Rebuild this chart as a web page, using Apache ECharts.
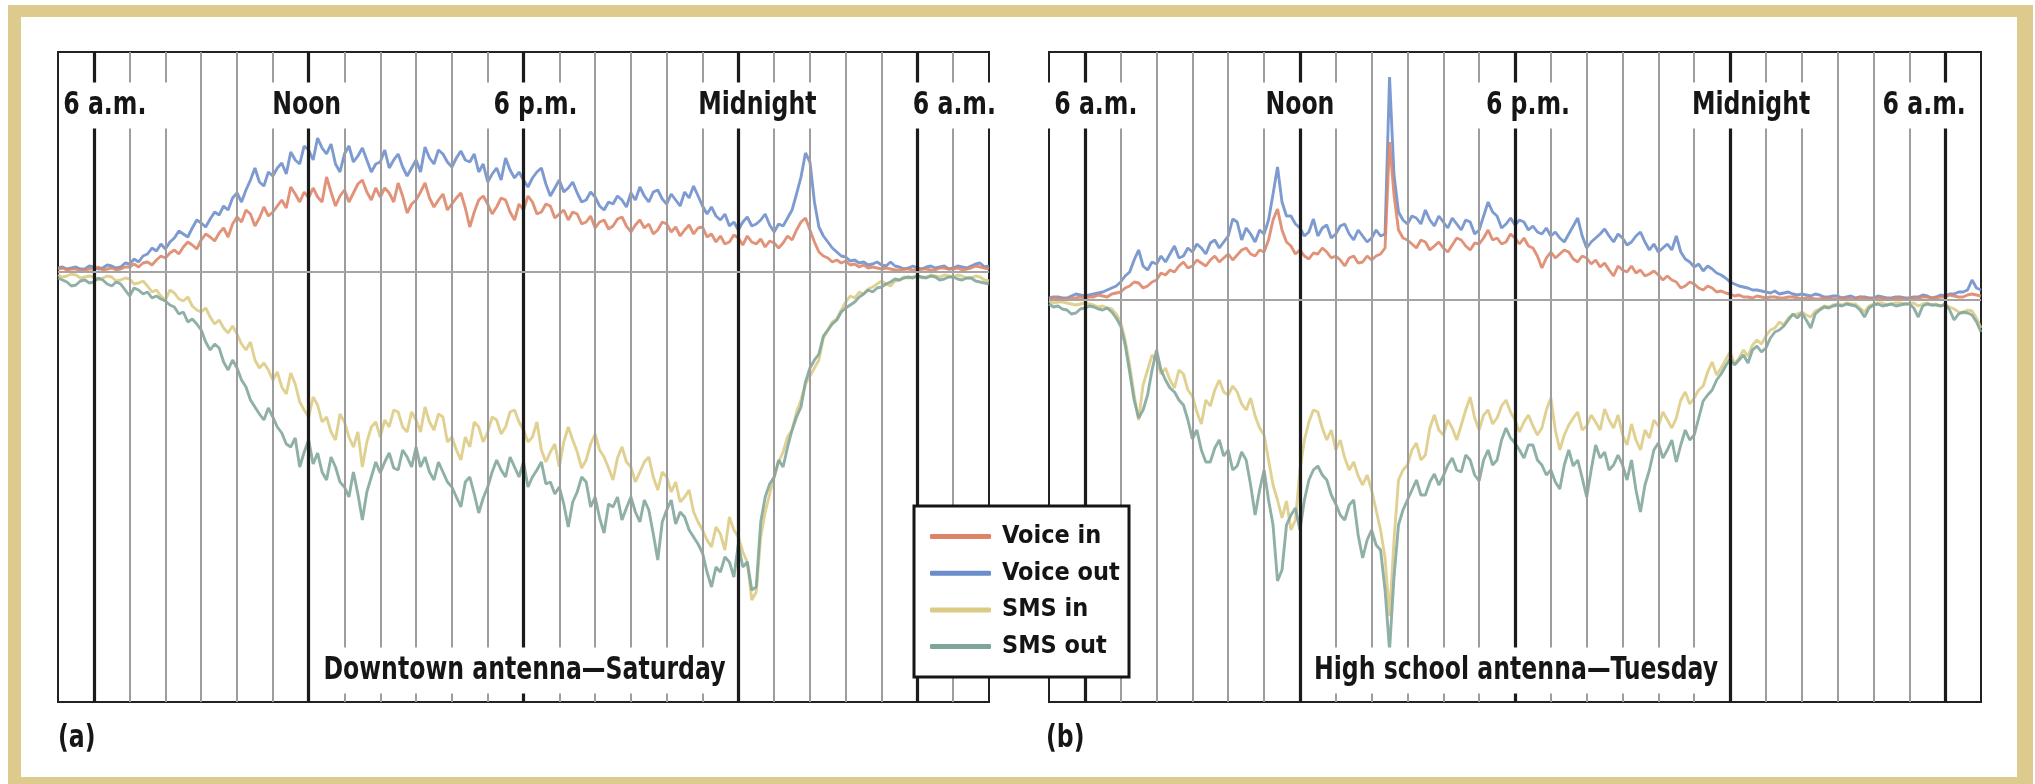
<!DOCTYPE html>
<html>
<head>
<meta charset="utf-8">
<title>Voice and SMS traffic by antenna</title>
<script src="https://cdn.jsdelivr.net/npm/echarts@6.0.0/dist/echarts.min.js"></script>
<style>
  html, body { margin: 0; padding: 0; background: #fff; }
  #chart { width: 2035px; height: 784px; }
</style>
</head>
<body>
<div id="chart"></div>
<script>
// time axis: hours after 5 a.m. (left edge of each panel), one reading every 7.5 minutes
const hours = [];
for (let i = 0; i <= 208; i++) hours.push(i / 8);

const seriesNames = ['Voice in', 'Voice out', 'SMS in', 'SMS out'];
const tickLabels = ['6 a.m.', 'Noon', '6 p.m.', 'Midnight', '6 a.m.'];
const tickHoursA = [1, 7, 13, 19, 24];
const tickHoursB = [1, 7, 13, 19, 25];
const panelTitles = ['Downtown antenna\u2014Saturday', 'High school antenna\u2014Tuesday'];
const panelTags = ['(a)', '(b)'];

// (a) downtown antenna, Saturday -- one row per hour
const voiceInA = [
  3, 4, 2, 3, 3, 1, 2, 3,
  3, 5, 2, 3, 4, 2, 3, 5,
  5, 8, 5, 9, 10, 7, 12, 16,
  14, 19, 22, 18, 25, 30, 27, 23,
  32, 38, 35, 31, 39, 44, 35, 48,
  55, 50, 62, 58, 46, 54, 65, 56,
  60, 66, 72, 64, 85, 78, 70, 80,
  74, 84, 75, 70, 95, 80, 66, 76,
  82, 70, 79, 88, 92, 80, 72, 84,
  75, 84, 79, 70, 89, 76, 59, 68,
  72, 80, 89, 74, 65, 72, 78, 62,
  68, 74, 79, 64, 45, 60, 72, 76,
  68, 58, 65, 74, 72, 60, 52, 68,
  62, 76, 70, 58, 60, 68, 66, 54,
  58, 62, 52, 60, 58, 48, 50, 56,
  44, 50, 52, 43, 46, 53, 55, 46,
  40, 47, 52, 44, 48, 38, 42, 50,
  48, 40, 45, 36, 42, 47, 38, 44,
  45, 35, 38, 30, 36, 28, 30, 37,
  34, 27, 36, 30, 28, 33, 25, 31,
  29, 24, 29, 36, 32, 42, 50, 54,
  42, 30, 20, 16, 14, 10, 12, 9,
  11, 7, 8, 5, 7, 4, 5, 4,
  3, 4, 3, 2, 2, 3, 3, 2,
  2, 3, 3, 2, 2, 4, 4, 3,
  3, 4, 2, 3, 4, 6, 5, 4,
  3
];
const voiceOutA = [
  4, 5, 3, 4, 5, 3, 3, 6,
  5, 3, 4, 7, 6, 4, 5, 9,
  8, 13, 10, 16, 18, 24, 21, 28,
  23, 30, 34, 41, 38, 35, 44, 52,
  49, 45, 53, 60, 57, 66, 62, 74,
  79, 70, 82, 92, 104, 90, 86, 100,
  96, 104, 109, 98, 120, 112, 108, 126,
  122, 112, 134, 124, 118, 128, 108, 100,
  118, 126, 110, 116, 124, 112, 100, 108,
  110, 122, 104, 112, 118, 105, 96, 104,
  112, 100, 125, 114, 108, 122, 118, 110,
  105, 114, 121, 112, 110, 118, 100, 108,
  90, 98, 104, 92, 114, 102, 94, 100,
  92, 85, 94, 100, 104, 88, 76, 84,
  92, 80, 84, 90, 79, 70, 72, 80,
  75, 66, 62, 70, 68, 76, 72, 65,
  79, 72, 85, 76, 70, 80, 82, 73,
  68, 78, 72, 66, 80, 74, 86, 76,
  66, 58, 65, 56, 52, 58, 46, 50,
  42, 50, 55, 46, 48, 52, 58, 47,
  40, 48, 46, 54, 62, 78, 95, 119,
  110, 70, 45, 36, 30, 24, 20, 16,
  15, 11, 12, 9, 10, 7, 8, 10,
  7, 6, 10, 6, 5, 3, 4, 6,
  4, 3, 5, 6, 4, 5, 6, 3,
  4, 6, 5, 4, 6, 8, 9, 5,
  6
];
const smsInA = [
  -3, -5, -4, -2, -3, -6, -5, -4,
  -5, -8, -6, -4, -5, -9, -8, -6,
  -7, -12, -11, -9, -14, -20, -18, -24,
  -28, -18, -21, -27, -29, -25, -34, -38,
  -40, -36, -45, -52, -48, -56, -61, -54,
  -62, -72, -78, -70, -88, -96, -91, -98,
  -108, -100, -115, -122, -101, -112, -130, -138,
  -145, -125, -133, -150, -145, -160, -168, -142,
  -150, -165, -175, -160, -195, -170, -155, -150,
  -165, -148, -155, -138, -140, -155, -160, -140,
  -148, -160, -135, -150, -158, -142, -145, -170,
  -165, -178, -188, -165, -175, -150, -155, -170,
  -160, -145, -148, -162, -155, -140, -138, -150,
  -158, -170, -165, -150, -178, -190, -180, -172,
  -195, -170, -155, -168, -180, -196, -188, -172,
  -162, -178, -185, -196, -208, -186, -175, -190,
  -195, -210, -200, -190, -185, -205, -218, -200,
  -205, -220, -210, -230, -225, -218, -240, -250,
  -258, -268, -275, -255, -262, -278, -245, -258,
  -265, -280, -290, -328, -320, -265, -240, -222,
  -205, -190, -180, -165, -158, -140, -128, -112,
  -104, -96, -88, -66, -58, -50, -47, -38,
  -30, -24, -26, -20, -22, -17, -15, -12,
  -9, -12, -14, -9, -8, -5, -6, -5,
  -4, -6, -5, -3, -4, -5, -3, -4,
  -5, -3, -4, -6, -6, -4, -5, -8,
  -9
];
const smsOutA = [
  -6, -8, -10, -14, -13, -9, -8, -11,
  -10, -6, -8, -12, -14, -10, -12, -18,
  -24, -16, -18, -22, -20, -26, -24, -27,
  -29, -33, -35, -42, -40, -50, -47, -52,
  -58, -70, -78, -72, -76, -90, -98, -88,
  -96, -108, -115, -128, -135, -142, -148, -136,
  -145, -155, -161, -172, -175, -166, -195, -180,
  -168, -192, -181, -200, -208, -185, -195, -210,
  -215, -225, -200, -222, -248, -220, -205, -190,
  -201, -190, -181, -196, -198, -178, -185, -195,
  -175, -195, -185, -200, -208, -190, -200, -210,
  -215, -225, -235, -210, -205, -222, -241, -226,
  -215, -200, -188, -198, -205, -185, -195, -205,
  -190, -215, -205, -198, -190, -212, -210, -222,
  -215, -232, -255, -230, -220, -205, -210, -235,
  -225, -246, -261, -232, -235, -225, -248, -236,
  -225, -240, -250, -228, -238, -262, -288, -250,
  -238, -228, -252, -240, -245, -258, -265, -272,
  -281, -300, -315, -295, -300, -285, -290, -305,
  -272, -295, -290, -318, -315, -250, -225, -212,
  -205, -188, -195, -175, -158, -145, -135, -110,
  -96, -88, -82, -64, -58, -52, -48, -40,
  -36, -33, -30, -25, -22, -18, -20, -16,
  -15, -12, -10, -7, -8, -6, -5, -6,
  -4, -5, -6, -4, -5, -8, -7, -5,
  -5, -7, -8, -6, -6, -9, -10, -11,
  -12
];

// (b) high school antenna, Tuesday -- one row per hour
const voiceInB = [
  1, 2, 2, 1, 1, 2, 2, 3,
  2, 3, 3, 5, 4, 3, 6, 7,
  8, 12, 14, 18, 17, 12, 14, 18,
  20, 27, 25, 30, 28, 34, 38, 32,
  34, 40, 37, 34, 40, 44, 38, 42,
  46, 40, 45, 50, 52, 46, 44, 50,
  48, 60, 80, 91, 70, 58, 54, 46,
  50, 44, 41, 47, 46, 52, 48, 42,
  44, 40, 34, 42, 44, 37, 38, 44,
  40, 44, 46, 52, 158, 105, 70, 62,
  60, 56, 52, 60, 58, 50, 54, 58,
  52, 48, 55, 62, 60, 54, 50, 57,
  56, 62, 70, 60, 62, 56, 58, 66,
  62, 56, 62, 54, 52, 44, 32, 42,
  48, 42, 46, 50, 48, 41, 38, 44,
  42, 36, 40, 33, 37, 30, 24, 34,
  30, 28, 34, 27, 30, 24, 26, 29,
  25, 20, 24, 20, 18, 12, 14, 18,
  16, 12, 10, 14, 12, 8, 9, 7,
  6, 4, 5, 3, 3, 2, 4, 3,
  2, 3, 3, 2, 2, 3, 3, 2,
  1, 2, 2, 1, 1, 2, 2, 1,
  1, 2, 2, 1, 1, 3, 2, 1,
  1, 2, 2, 1, 1, 2, 2, 1,
  1, 2, 2, 3, 3, 2, 2, 3,
  3, 5, 4, 3, 3, 5, 6, 5,
  4
];
const voiceOutB = [
  2, 3, 3, 2, 2, 4, 6, 5,
  4, 5, 6, 7, 8, 10, 12, 14,
  18, 24, 28, 40, 50, 34, 30, 38,
  36, 44, 38, 46, 54, 42, 44, 52,
  48, 56, 52, 46, 57, 60, 52, 58,
  64, 81, 78, 60, 72, 66, 58, 70,
  66, 80, 106, 133, 98, 84, 84, 76,
  72, 64, 68, 81, 64, 72, 75, 62,
  66, 74, 76, 66, 60, 70, 64, 58,
  62, 70, 64, 66, 223, 125, 88, 80,
  76, 84, 82, 76, 90, 80, 74, 84,
  78, 72, 82, 76, 70, 80, 78, 66,
  70, 84, 98, 88, 84, 72, 76, 82,
  75, 80, 78, 70, 74, 68, 66, 72,
  64, 68, 62, 58, 66, 74, 82, 64,
  52, 58, 62, 66, 71, 64, 58, 66,
  62, 55, 58, 64, 68, 58, 50, 56,
  48, 52, 56, 50, 64, 48, 41, 38,
  33, 36, 29, 34, 31, 27, 25, 22,
  18, 16, 14, 13, 12, 10, 10, 9,
  8, 7, 9, 6, 7, 8, 6, 5,
  6, 5, 4, 6, 5, 3, 3, 4,
  4, 2, 3, 4, 2, 3, 3, 2,
  2, 4, 3, 2, 2, 3, 3, 2,
  2, 3, 3, 5, 4, 2, 3, 5,
  4, 6, 6, 8, 8, 10, 20, 12,
  10
];
const smsInB = [
  -1, -3, -2, -2, -3, -4, -5, -4,
  -3, -4, -5, -7, -6, -8, -9, -14,
  -22, -40, -65, -95, -120, -85, -70, -55,
  -60, -74, -68, -80, -88, -70, -74, -90,
  -96, -112, -124, -100, -106, -90, -80, -92,
  -95, -86, -92, -104, -110, -98, -116, -128,
  -135, -160, -185, -200, -218, -201, -230, -220,
  -170, -140, -122, -110, -112, -128, -140, -130,
  -150, -140, -158, -170, -162, -176, -185, -175,
  -190, -210, -230, -258, -316, -240, -180, -170,
  -165, -150, -143, -160, -155, -128, -115, -130,
  -135, -120, -128, -140, -125, -110, -97, -118,
  -130, -115, -110, -124, -118, -106, -100, -112,
  -120, -132, -122, -115, -126, -135, -128, -110,
  -98, -130, -150, -135, -125, -118, -112, -130,
  -126, -115, -122, -130, -109, -120, -128, -115,
  -135, -145, -124, -140, -150, -130, -138, -120,
  -126, -112, -120, -128, -118, -100, -92, -104,
  -98, -90, -86, -72, -62, -75, -68, -60,
  -52, -64, -58, -50, -56, -45, -40, -44,
  -36, -30, -28, -22, -25, -18, -15, -14,
  -12, -15, -17, -11, -9, -6, -7, -5,
  -4, -5, -3, -4, -4, -8, -12, -6,
  -4, -3, -3, -5, -4, -3, -3, -4,
  -4, -3, -6, -4, -3, -5, -4, -6,
  -5, -7, -9, -12, -13, -10, -11, -18,
  -28
];
const smsOutB = [
  -4, -7, -6, -9, -10, -14, -13, -9,
  -8, -6, -7, -9, -10, -8, -12, -18,
  -26, -45, -72, -100, -118, -110, -95, -70,
  -50, -70, -80, -88, -92, -100, -105, -120,
  -139, -130, -150, -162, -162, -148, -140, -156,
  -150, -170, -166, -152, -160, -185, -215, -190,
  -170, -200, -225, -281, -270, -225, -215, -208,
  -230, -200, -180, -170, -166, -175, -180, -195,
  -204, -215, -220, -205, -200, -235, -258, -240,
  -230, -245, -250, -290, -350, -277, -225, -210,
  -200, -190, -180, -195, -195, -182, -174, -185,
  -176, -165, -158, -170, -172, -155, -160, -175,
  -181, -160, -150, -165, -160, -140, -128, -138,
  -143, -150, -158, -145, -145, -160, -165, -175,
  -170, -182, -189, -165, -150, -166, -160, -178,
  -197, -170, -145, -158, -152, -170, -165, -155,
  -165, -180, -160, -190, -212, -185, -170, -150,
  -143, -158, -150, -140, -162, -145, -130, -140,
  -135, -118, -101, -95, -90, -80, -74, -66,
  -59, -65, -60, -55, -63, -50, -46, -52,
  -48, -38, -32, -30, -26, -20, -14, -18,
  -13, -20, -28, -14, -10, -7, -8, -6,
  -5, -6, -4, -5, -6, -10, -17, -8,
  -5, -4, -6, -5, -4, -6, -5, -4,
  -4, -8, -17, -6, -4, -5, -5, -6,
  -4, -10, -20, -14, -12, -13, -15, -22,
  -32
];

const FONT = "'DejaVu Sans Condensed', 'DejaVu Sans', sans-serif";
const TEXT_FONT = 'bold 32px ' + FONT;
const SQUEEZE = 0.82;   // the original uses a narrow face
const colors = ['#dd8466', '#6b8dca', '#dccb84', '#7ea59b'];
const drawOrder = [1, 0, 2, 3]; // voice out under voice in, sms in under sms out

const panels = [
  { data: [voiceInA, voiceOutA, smsInA, smsOutA], ticks: tickHoursA,
    tickShift: [11, -2, 12, 19, 37], topY: 166.6, bottomY: -398.5 },
  { data: [voiceInB, voiceOutB, smsInB, smsOutB], ticks: tickHoursB,
    tickShift: [11, 0, 13, 21, -21], topY: 194.6, bottomY: -370.5 }
];

const toPairs = vals => vals.map((v, i) => [hours[i], v]);

const series = [];
panels.forEach((p, k) => {
  drawOrder.forEach(s => {
    series.push({
      type: 'line', name: seriesNames[s], xAxisIndex: k, yAxisIndex: k,
      data: toPairs(p.data[s]), showSymbol: false, symbol: 'none', z: 2,
      color: colors[s], itemStyle: { color: colors[s] },
      lineStyle: { color: colors[s], width: 2.9, opacity: 0.88 },
      emphasis: { disabled: true }
    });
  });

  // hour lines drawn on top of the traffic, like the original
  const lines = [];
  for (let h = 1; h < 26; h++) {
    if (p.ticks.indexOf(h) >= 0) continue;
    lines.push({ xAxis: h, lineStyle: { color: '#9d9d9d', width: 2, type: 'solid' } });
  }
  p.ticks.forEach(h => lines.push({ xAxis: h, lineStyle: { color: '#1b1b1b', width: 3.2, type: 'solid' } }));
  lines.push({ yAxis: 0, lineStyle: { color: '#a4a4a4', width: 2, type: 'solid' } });
  series.push({
    type: 'line', name: 'hours' + k, xAxisIndex: k, yAxisIndex: k, data: [], z: 3, silent: true,
    markLine: { silent: true, z: 3, symbol: ['none', 'none'], label: { show: false },
      emphasis: { disabled: true }, animation: false, data: lines }
  });
});

const gold = '#dccb8c';
const frame = [
  { type: 'rect', z: 1, shape: { x: 8, y: 5, width: 2025, height: 12 }, style: { fill: gold } },
  { type: 'rect', z: 1, shape: { x: 8, y: 5, width: 13, height: 779 }, style: { fill: gold } },
  { type: 'rect', z: 1, shape: { x: 2017, y: 5, width: 16, height: 779 }, style: { fill: gold } },
  { type: 'rect', z: 1, shape: { x: 8, y: 777, width: 2025, height: 7 }, style: { fill: gold } },
  { type: 'rect', z: 50, shape: { x: 914, y: 506, width: 215, height: 171 },
    style: { fill: '#fff', stroke: '#151515', lineWidth: 3 } }
];

const option = {
  animation: false,
  backgroundColor: '#fff',
  grid: [
    { left: 58, top: 52, width: 931, height: 650, show: true, borderColor: '#222', borderWidth: 2 },
    { left: 1049, top: 52, width: 932, height: 650, show: true, borderColor: '#222', borderWidth: 2 }
  ],
  xAxis: [
    { type: 'value', gridIndex: 0, min: 0, max: 26, show: false },
    { type: 'value', gridIndex: 1, min: 0, max: 26, show: false }
  ],
  yAxis: [
    { type: 'value', gridIndex: 0, min: -430, max: 220, show: false },
    { type: 'value', gridIndex: 1, min: -402, max: 248, show: false }
  ],
  legend: {
    data: seriesNames, orient: 'vertical', left: 930, top: 522, padding: 0,
    itemGap: 7.7, itemWidth: 61, itemHeight: 5, icon: 'roundRect', selectedMode: false, z: 60,
    textStyle: { fontFamily: FONT, fontWeight: 'bold', fontSize: 25, lineHeight: 29,
      color: '#141414', padding: [0, 0, 0, 6] }
  },
  graphic: frame,
  series: series
};

const myChart = echarts.init(document.getElementById('chart'));
myChart.setOption(option);

// time labels and panel titles sit on white boxes that break the hour lines
function boxText(text, pt, pad, shift) {
  const centre = pt[0] + shift + (pad[1] - pad[3]) / 2 * SQUEEZE;
  return {
    type: 'text', z: 20, x: centre, y: pt[1], scaleX: SQUEEZE, silent: true,
    style: { text: text, font: TEXT_FONT, fill: '#161616', align: 'center', verticalAlign: 'middle',
      backgroundColor: '#fff', padding: pad, lineHeight: 32 }
  };
}
const labelGraphics = [];
panels.forEach((p, k) => {
  p.ticks.forEach((h, i) => {
    let pad = [7, 16, 7, 16];
    if (k === 0 && i === 0) pad = [7, 26, 7, 3];
    if (k === 0 && i === 4) pad = [7, 4, 7, 4];
    if (k === 1 && i === 4) pad = [7, 8, 7, 6];
    const pt = myChart.convertToPixel({ gridIndex: k }, [h, p.topY]);
    labelGraphics.push(boxText(tickLabels[i], pt, pad, p.tickShift[i]));
  });
  const pt = myChart.convertToPixel({ gridIndex: k }, [13, p.bottomY]);
  labelGraphics.push(boxText(panelTitles[k], pt, [7, 10, 7, 10], 1));
  const tag = myChart.convertToPixel({ gridIndex: k }, [0, p.bottomY]);
  labelGraphics.push({
    type: 'text', z: 20, x: tag[0] - (k === 0 ? 0 : 3), y: 739, scaleX: SQUEEZE, silent: true,
    style: { text: panelTags[k], font: TEXT_FONT, fill: '#161616', align: 'left', verticalAlign: 'middle' }
  });
});
myChart.setOption({ graphic: frame.concat(labelGraphics) });
</script>
</body>
</html>
